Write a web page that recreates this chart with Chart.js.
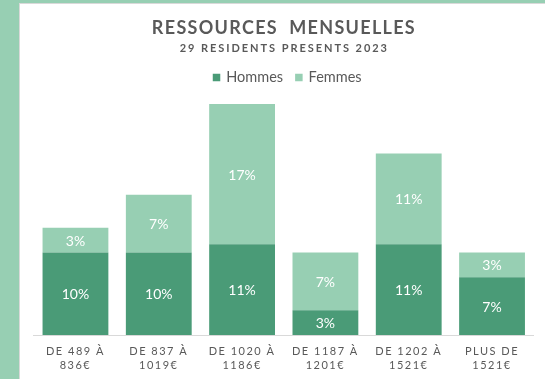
<!DOCTYPE html>
<html lang="fr">
<head>
<meta charset="utf-8">
<title>Ressources mensuelles</title>
<script src="https://cdn.jsdelivr.net/npm/chart.js@4.4.1/dist/chart.umd.min.js"></script>
<style>
  html, body { margin: 0; padding: 0; }
  body { width: 545px; height: 379px; background: #97cfb3; overflow: hidden; position: relative; }
  .card {
    position: absolute; left: 19px; top: 3px; width: 525px; height: 375px;
    background: #fff; border-left: 1px solid #d9d9d9; border-top: 1px solid #d9d9d9;
  }
  canvas { display: block; }
</style>
</head>
<body>
<div class="card"><canvas id="chart" width="525" height="375"></canvas></div>
<script>
const titleText = "RESSOURCES  MENSUELLES";
const subtitleText = "29 RESIDENTS PRESENTS 2023";

const categories = [
	["DE 489 À", "836€"],
	["DE 837 À", "1019€"],
	["DE 1020 À", "1186€"],
	["DE 1187 À", "1201€"],
	["DE 1202 À", "1521€"],
	["PLUS DE", "1521€"],
];
const hommes = [10, 10, 11, 3, 11, 7];
const femmes = [3, 7, 17, 7, 11, 3];

const textColor = "#595959";

// titre, sous-titre et légende dessinés à la main (espacement des lettres)
const headerPlugin = {
	id: "header",
	beforeDraw(chart) {
		chart.ctx.letterSpacing = "1.5px"; // libellés de l'axe X
	},
	beforeDatasetsDraw(chart) {
		chart.ctx.letterSpacing = "0px";
	},
	afterDraw(chart) {
		const ctx = chart.ctx;
		const cx = 263.3;
		ctx.save();
		ctx.fillStyle = textColor;
		ctx.textAlign = "center";
		ctx.textBaseline = "alphabetic";

		ctx.font = "bold 18px Lato";
		ctx.letterSpacing = "1.3px";
		ctx.fillText(titleText, cx + 0.65, 30);

		ctx.font = "bold 11px Lato";
		ctx.letterSpacing = "1.95px";
		ctx.fillText(subtitleText, cx + 1, 48.3);

		// légende
		ctx.letterSpacing = "0px";
		ctx.font = "14.5px Lato";
		ctx.textAlign = "left";
		ctx.textBaseline = "middle";
		const box = 7.5, gap = 6, itemGap = 12;
		const items = chart.data.datasets.map(ds => ({
			label: ds.label,
			color: ds.backgroundColor,
			w: box + gap + ctx.measureText(ds.label).width,
		}));
		const total = items.reduce((s, it) => s + it.w, 0) + itemGap * (items.length - 1);
		let x = 267.2 - total / 2;
		const y = 73.5;
		items.forEach(it => {
			ctx.fillStyle = it.color;
			ctx.fillRect(x, y - box / 2, box, box);
			ctx.fillStyle = textColor;
			ctx.fillText(it.label, x + box + gap, y);
			x += it.w + itemGap;
		});
		ctx.restore();
	},
};

// valeurs en pourcentage au centre de chaque segment
const valueLabels = {
	id: "valueLabels",
	afterDatasetsDraw(chart) {
		const ctx = chart.ctx;
		ctx.save();
		ctx.letterSpacing = "0px";
		ctx.font = "14px Lato";
		ctx.fillStyle = "#ffffff";
		ctx.textAlign = "center";
		ctx.textBaseline = "middle";
		chart.data.datasets.forEach((ds, i) => {
			chart.getDatasetMeta(i).data.forEach((bar, j) => {
				const { x, y, base } = bar.getProps(["x", "y", "base"], true);
				ctx.fillText(ds.data[j] + "%", x, (y + base) / 2 + 1);
			});
		});
		ctx.restore();
	},
};

new Chart(document.getElementById("chart"), {
	type: "bar",
	data: {
		labels: categories,
		datasets: [
			{
				label: "Hommes",
				data: hommes,
				backgroundColor: "#4a9b77",
				borderWidth: 0,
			},
			{
				label: "Femmes",
				data: femmes,
				backgroundColor: "#97cfb3",
				borderWidth: 0,
			},
		],
	},
	options: {
		responsive: false,
		animation: false,
		layout: { padding: { top: 83.5, left: 13.8, right: 11.3, bottom: 0 } },
		datasets: { bar: { barPercentage: 0.79, categoryPercentage: 1 } },
		plugins: {
			legend: { display: false },
			title: { display: false },
			tooltip: { enabled: false },
		},
		scales: {
			x: {
				stacked: true,
				grid: { display: false, drawTicks: false },
				border: { display: true, color: "#d9d9d9", width: 1 },
				ticks: {
					autoSkip: false,
					maxRotation: 0,
					padding: 9,
					color: textColor,
					font: { family: "Lato", size: 11, lineHeight: 1.32 },
				},
				afterFit(scale) {
					scale.height = 44;
				},
			},
			y: {
				stacked: true,
				display: false,
				min: 0,
				max: 30,
			},
		},
	},
	plugins: [headerPlugin, valueLabels],
});
</script>
</body>
</html>
